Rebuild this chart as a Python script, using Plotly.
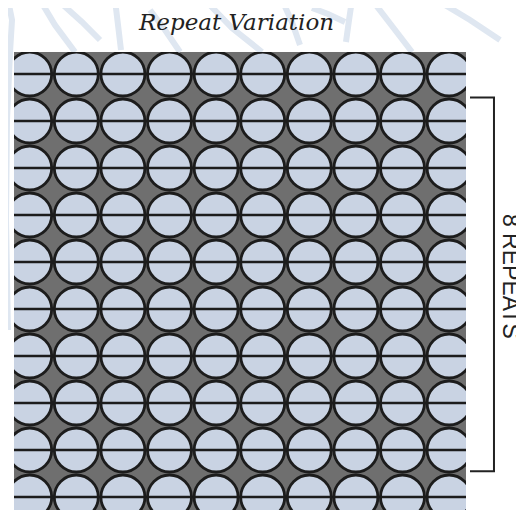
import numpy as np
import plotly.graph_objects as go

# grid of the repeating tile: column and row indices of the circles
columns = list(range(10))
rows = list(range(10))
repeat_rows = rows[1:9]          # rows marked by the bracket
bracket_label = "8 REPEATS"
title = "Repeat Variation"

CIRCLE_FILL = "#c9d3e3"
GROUND = "#6f6f6f"
INK = "#1c1c1c"
WASH = "#dfe7f1"

xx, yy = np.meshgrid(columns, rows)

fig = go.Figure()

# circles
fig.add_trace(go.Scatter(
    x=xx.ravel(), y=yy.ravel(),
    mode="markers",
    marker=dict(symbol="circle", size=44, color=CIRCLE_FILL, line=dict(color=INK, width=2.8)),
    hoverinfo="skip",
))

# horizontal rule through each row of circles
line_x, line_y = [], []
for r in rows:
    line_x += [columns[0] - 1, columns[-1] + 1, None]
    line_y += [r, r, None]
fig.add_trace(go.Scatter(
    x=line_x, y=line_y, mode="lines",
    line=dict(color=INK, width=2.4),
    hoverinfo="skip",
))

# bracket marking the repeated rows
top = repeat_rows[0] - 0.5
bottom = repeat_rows[-1] + 0.45
fig.add_shape(
    type="path", xref="paper", yref="y",
    path=f"M 1.0088,{top} L 1.0619,{top} L 1.0619,{bottom} L 1.0088,{bottom}",
    line=dict(color="#222222", width=2),
)
fig.add_annotation(
    text=bracket_label, xref="paper", yref="paper", x=1.0996, y=0.511,
    xanchor="center", yanchor="middle",
    textangle=90, showarrow=False,
    font=dict(family="Liberation Sans, Arial", size=23, color="#222222"),
)


# faint sketch in the page background (page pixels -> paper coords)
def pg(px, py):
    return (px - 14) / 452, (510 - py) / 458


strokes = [
    [(8, 0), (12, 20), (10, 52), (7, 120), (6, 220), (8, 330)],
    [(40, 0), (55, 25), (75, 52)],
    [(62, 4), (82, 22), (100, 40)],
    [(115, 0), (118, 25), (121, 50)],
    [(150, 10), (165, 30), (180, 52)],
    [(205, 0), (232, 28), (262, 52)],
    [(282, 0), (292, 22), (300, 45)],
    [(312, 8), (328, 14), (345, 22)],
    [(352, 0), (349, 20), (346, 42)],
    [(372, 0), (392, 26), (412, 52)],
    [(440, 2), (470, 20), (500, 40)],
]
for s in strokes:
    pts = [pg(*p) for p in s]
    path = "M " + " L ".join(f"{x:.4f},{y:.4f}" for x, y in pts)
    fig.add_shape(type="path", xref="paper", yref="paper", path=path,
                  line=dict(color=WASH, width=6), layer="below")

# the page adds an 8px body margin, so the figure is 8px smaller
fig.update_layout(
    width=516, height=502,
    margin=dict(l=6, r=58, t=44, b=0),
    paper_bgcolor="white",
    plot_bgcolor=GROUND,
    showlegend=False,
    title=dict(
        text=f"<i>{title}</i>", xref="container", yref="container",
        x=0.443, xanchor="center", y=0.972, yanchor="middle",
        font=dict(family="DejaVu Serif, serif", size=23, color="#222222"),
    ),
    xaxis=dict(range=[-0.337, 9.363], visible=False, fixedrange=True),
    yaxis=dict(range=[9.277, -0.468], visible=False, fixedrange=True),
)

fig.write_html("out.html")
